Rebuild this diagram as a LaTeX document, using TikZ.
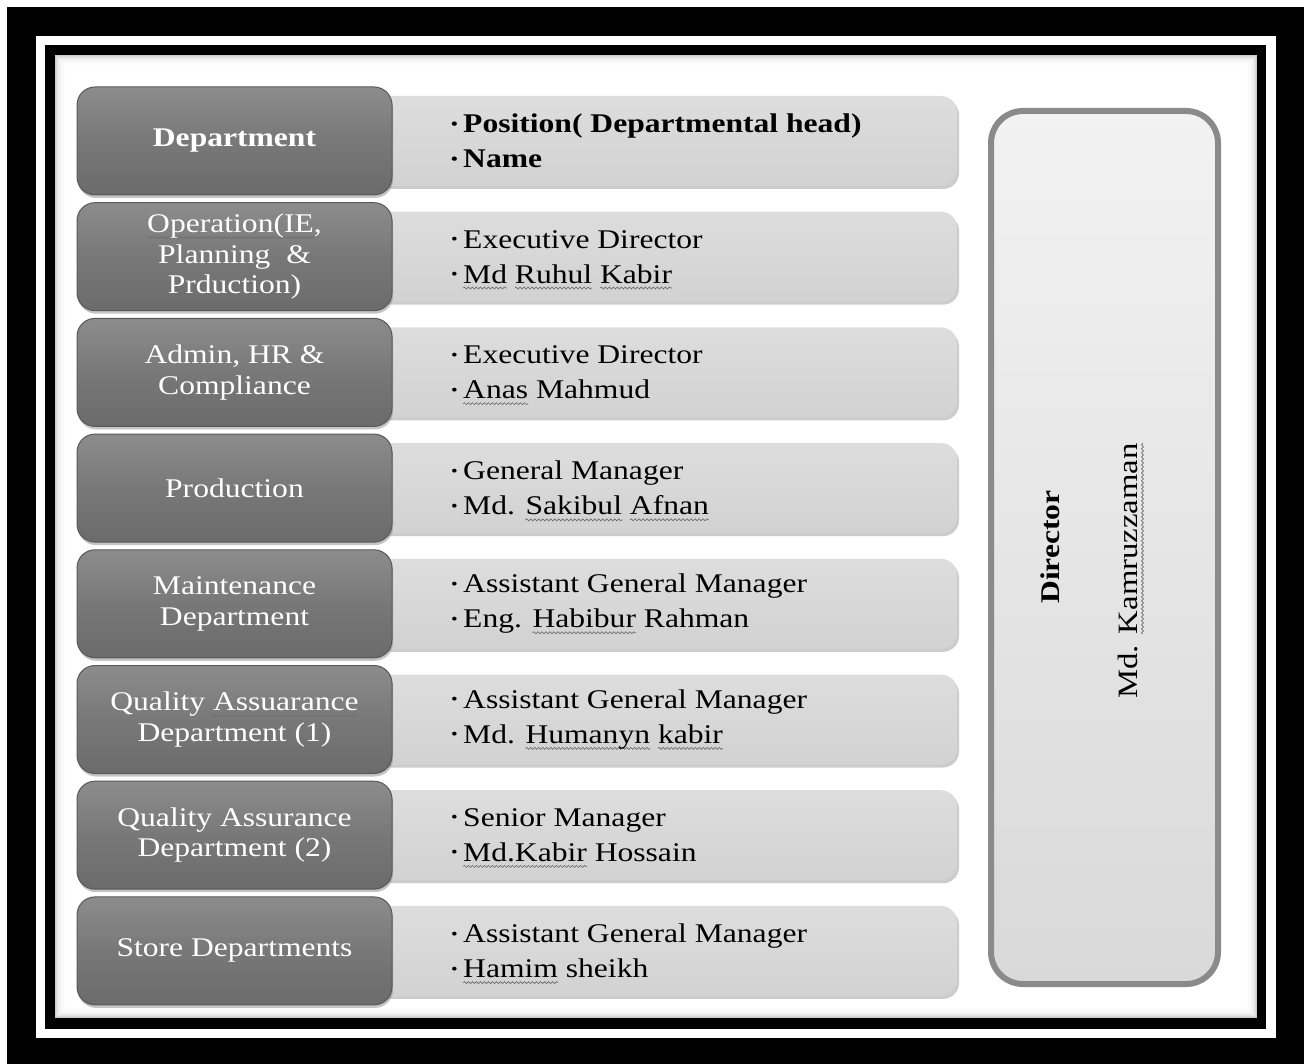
\documentclass[tikz,border=0pt]{standalone}
\usepackage{fontspec}
\setmainfont{Liberation Serif}[FakeStretch=1.17]
\usetikzlibrary{shadows,decorations.pathmorphing}

\definecolor{depttop}{HTML}{8C8C8C}
\definecolor{deptmid}{HTML}{787878}
\definecolor{deptbot}{HTML}{6B6B6B}
\definecolor{deptedge}{HTML}{595959}
\definecolor{infotop}{HTML}{DDDDDD}
\definecolor{infobot}{HTML}{D2D2D2}
\definecolor{dirtop}{HTML}{F2F2F2}
\definecolor{dirbot}{HTML}{D9D9D9}
\definecolor{diredge}{HTML}{8A8A8A}
\definecolor{squigcol}{HTML}{6E6E6E}

% wavy underline under a word
\newlength\wvlen
\newcommand\wv[1]{\settowidth\wvlen{#1}\rlap{\tikz[overlay,x=1pt,y=1pt]\draw[squigcol,sharp corners,line width=0.7pt,decorate,decoration={snake,segment length=4pt,amplitude=1pt}] (0pt,-5pt) -- (\wvlen,-5pt);}#1}
% small list bullet
\newcommand\bul{\makebox[12pt][l]{\raisebox{3.6pt}{\scalebox{0.6}{•}}}}

\tikzset{
  deptbox/.style={rectangle, rounded corners=18pt, minimum width=315pt, minimum height=108pt,
    inner sep=0pt, draw=deptedge, line width=1pt, top color=depttop, bottom color=deptbot,
    middle color=deptmid, drop shadow={shadow xshift=1pt, shadow yshift=-3pt, opacity=0.45}},
  depttext/.style={inner sep=0pt, text=white, align=center, font=\fontsize{27}{30.5}\selectfont},
  infobox/.style={rectangle, rounded corners=16pt, minimum width=587pt, minimum height=90pt,
    inner sep=0pt, top color=infotop, bottom color=infobot,
    drop shadow={shadow xshift=2pt, shadow yshift=-3pt, opacity=0.4}},
  infotext/.style={anchor=west, align=left, inner sep=0pt, text=black,
    font=\fontsize{27}{35}\selectfont},
  dirbox/.style={rectangle, rounded corners=32pt, minimum width=227pt, minimum height=873pt,
    inner sep=0pt, draw=diredge, line width=6pt, top color=dirtop, bottom color=dirbot},
}

\begin{document}
\begin{tikzpicture}[x=1pt,y=-1pt]
\useasboundingbox (0,0) rectangle (1311,1064);
\fill[white] (0,0) rectangle (1311,1064);

% frames
\fill[black] (7,7) rectangle (1304,1064);
\fill[white] (36,36) rectangle (1276,1038);
\fill[black] (45,45) rectangle (1266,1029);
\fill[white] (55,55) rectangle (1257,1018);
\foreach \i/\o in {0/0.20,1/0.15,2/0.11,3/0.08,4/0.06,5/0.045,6/0.032,7/0.022,8/0.014,9/0.008}
  \draw[black, opacity=\o, line width=1pt] (55.5+\i,55.5+\i) rectangle (1256.5-\i,1017.5-\i);

% right-hand information boxes
\node[infobox] (b1) at (663.5,141.0) {};
\node[infobox] (b2) at (663.5,256.7) {};
\node[infobox] (b3) at (663.5,372.4) {};
\node[infobox] (b4) at (663.5,488.1) {};
\node[infobox] (b5) at (663.5,603.8) {};
\node[infobox] (b6) at (663.5,719.5) {};
\node[infobox] (b7) at (663.5,835.2) {};
\node[infobox] (b8) at (663.5,950.9) {};

% department boxes
\node[deptbox] (d1) at (234.5,141.0) {};
\node[deptbox] (d2) at (234.5,256.7) {};
\node[deptbox] (d3) at (234.5,372.4) {};
\node[deptbox] (d4) at (234.5,488.1) {};
\node[deptbox] (d5) at (234.5,603.8) {};
\node[deptbox] (d6) at (234.5,719.5) {};
\node[deptbox] (d7) at (234.5,835.2) {};
\node[deptbox] (d8) at (234.5,950.9) {};

% department names
\node[depttext] (n1) at (d1.center) {\textbf{Department}};
\node[depttext] (n2) at (d2.center) {\wv{Operation(IE},\\Planning \ \&\\Prduction)};
\node[depttext] (n3) at (d3.center) {Admin, HR \&\\Compliance};
\node[depttext] (n4) at (d4.center) {Production};
\node[depttext] (n5) at (d5.center) {Maintenance\\Department};
\node[depttext] (n6) at (d6.center) {Quality \wv{Assuarance}\\Department (1)};
\node[depttext] (n7) at (d7.center) {Quality Assurance\\Department (2)};
\node[depttext] (n8) at (d8.center) {Store Departments};

% heads of department
\node[infotext,font=\bfseries\fontsize{27}{35}\selectfont] (t1) at (451,141.0)
  {\bul Position( Departmental head)\\\bul Name};
\node[infotext] (t2) at (451,256.7) {\bul Executive Director\\\bul \wv{Md} \wv{Ruhul} \wv{Kabir}};
\node[infotext] (t3) at (451,372.4) {\bul Executive Director\\\bul \wv{Anas} Mahmud};
\node[infotext] (t4) at (451,488.1) {\bul General Manager\\\bul Md. \wv{Sakibul} \wv{Afnan}};
\node[infotext] (t5) at (451,603.8) {\bul Assistant General Manager\\\bul Eng. \wv{Habibur} Rahman};
\node[infotext] (t6) at (451,719.5) {\bul Assistant General Manager\\\bul Md. \wv{Humanyn} \wv{kabir}};
\node[infotext] (t7) at (451,835.2) {\bul Senior Manager\\\bul \wv{Md.Kabir} Hossain};
\node[infotext] (t8) at (451,950.9) {\bul Assistant General Manager\\\bul \wv{Hamim} sheikh};

% director
\node[dirbox] (dir) at (1104.5,547.5) {};
\node[rotate=90, inner sep=0pt, font=\bfseries\fontsize{27}{30}\selectfont] (dirtitle) at (1050,547) {Director};
\node[rotate=90, inner sep=0pt, font=\fontsize{28}{30}\selectfont] (dirname) at (1128,571) {Md. \wv{Kamruzzaman}};
\end{tikzpicture}
\end{document}
